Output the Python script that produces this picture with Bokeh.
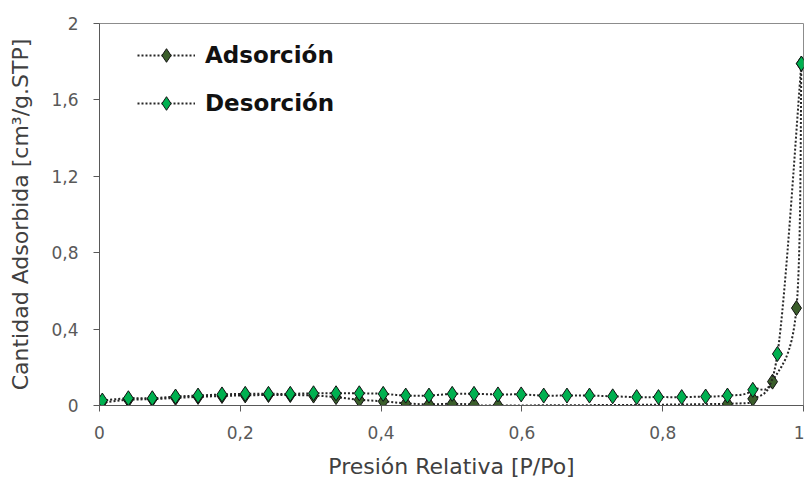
from bokeh.embed import file_html
from bokeh.models import FixedTicker, Legend, LegendItem, Range1d
from bokeh.plotting import figure
from bokeh.resources import INLINE

# Relative pressure / adsorbed volume readings for the isotherm
ads_p = [0.003, 0.041, 0.075, 0.108, 0.140, 0.174, 0.207, 0.240, 0.271, 0.304,
         0.336, 0.369, 0.403, 0.435, 0.468, 0.501, 0.532, 0.566,
         0.892, 0.928, 0.956, 0.990, 0.997]
ads_v = [0.015, 0.030, 0.033, 0.040, 0.045, 0.050, 0.053, 0.055, 0.055, 0.052,
         0.044, 0.030, 0.022, 0.011, 0.006, 0.009, 0.005, 0.000,
         0.009, 0.035, 0.125, 0.510, 1.790]

des_p = [0.004, 0.041, 0.075, 0.108, 0.140, 0.174, 0.207, 0.240, 0.271, 0.304,
         0.336, 0.369, 0.403, 0.435, 0.468, 0.501, 0.532, 0.566, 0.599, 0.631,
         0.664, 0.696, 0.729, 0.763, 0.794, 0.827, 0.861, 0.892, 0.928, 0.963,
         0.997]
des_v = [0.026, 0.038, 0.038, 0.047, 0.052, 0.058, 0.061, 0.061, 0.061, 0.064,
         0.064, 0.064, 0.061, 0.052, 0.052, 0.061, 0.061, 0.058, 0.058, 0.052,
         0.052, 0.052, 0.048, 0.044, 0.044, 0.044, 0.047, 0.052, 0.082, 0.270,
         1.790]

series_names = ["Adsorción", "Desorción"]
series_colors = ["#3b5e2b", "#00b050"]

x_ticks = [0, 0.2, 0.4, 0.6, 0.8, 1]
x_tick_labels = ["0", "0,2", "0,4", "0,6", "0,8", "1"]
y_ticks = [0, 0.4, 0.8, 1.2, 1.6, 2]
y_tick_labels = ["0", "0,4", "0,8", "1,2", "1,6", "2"]


def smooth_segments(xs, ys):
    """Cubic Bezier pieces (Catmull-Rom style) through the given points."""
    n = len(xs)
    seg = dict(x0=[], y0=[], x1=[], y1=[], cx0=[], cy0=[], cx1=[], cy1=[])
    for i in range(n - 1):
        a = max(i - 1, 0)
        b = min(i + 2, n - 1)
        seg["x0"].append(xs[i])
        seg["y0"].append(ys[i])
        seg["x1"].append(xs[i + 1])
        seg["y1"].append(ys[i + 1])
        seg["cx0"].append(xs[i] + (xs[i + 1] - xs[a]) / 6)
        seg["cy0"].append(ys[i] + (ys[i + 1] - ys[a]) / 6)
        seg["cx1"].append(xs[i + 1] - (xs[b] - xs[i]) / 6)
        seg["cy1"].append(ys[i + 1] - (ys[b] - ys[i]) / 6)
    return seg


p = figure(width=804, height=483, output_backend="svg", toolbar_location=None,
           x_range=Range1d(0, 1), y_range=Range1d(0, 2),
           min_border_left=99, min_border_right=1, min_border_top=23,
           min_border_bottom=78)

p.background_fill_color = "white"
p.border_fill_color = "white"
p.outline_line_color = "#8c8c8c"
p.outline_line_width = 1
p.xgrid.visible = False
p.ygrid.visible = False

items = []
for name, color, xs, ys in [(series_names[0], series_colors[0], ads_p, ads_v),
                            (series_names[1], series_colors[1], des_p, des_v)]:
    curve = p.bezier(source=smooth_segments(xs, ys), x0="x0", y0="y0", x1="x1",
                     y1="y1", cx0="cx0", cy0="cy0", cx1="cx1", cy1="cy1",
                     line_color="#262626", line_width=2, line_dash="2 2")
    marks = p.scatter(xs, ys, marker="diamond", size=15,
                      fill_color=color, line_color="#111111", line_width=1)
    items.append(LegendItem(label=name, renderers=[curve, marks]))

legend = Legend(items=items, location=(38, 285), orientation="vertical",
                glyph_width=58, glyph_height=34, label_height=34, spacing=14,
                label_standoff=10, padding=0, border_line_color=None,
                background_fill_alpha=0,
                label_text_font="DejaVu Sans", label_text_font_style="bold",
                label_text_font_size="23px", label_text_color="#111111")
p.add_layout(legend)

for ax, ticks, labels in [(p.xaxis[0], x_ticks, x_tick_labels),
                          (p.yaxis[0], y_ticks, y_tick_labels)]:
    ax.ticker = FixedTicker(ticks=ticks)
    ax.major_label_overrides = {t: lab for t, lab in zip(ticks, labels)}
    ax.minor_tick_line_color = None
    ax.major_tick_in = 0
    ax.major_tick_out = 6
    ax.axis_line_color = "#595959"
    ax.major_tick_line_color = "#595959"
    ax.major_label_text_font = "DejaVu Sans"
    ax.major_label_text_font_size = "17px"
    ax.major_label_text_color = "#595959"
    ax.axis_label_text_font = "DejaVu Sans"
    ax.axis_label_text_font_style = "normal"
    ax.axis_label_text_font_size = "22px"
    ax.axis_label_text_color = "#404040"

p.xaxis.axis_label = "Presión Relativa [P/Po]"
p.yaxis.axis_label = "Cantidad Adsorbida [cm³/g.STP]"
p.xaxis.major_label_standoff = 14
p.xaxis.axis_label_standoff = 12
p.yaxis.major_label_standoff = 15
p.yaxis.axis_label_standoff = 15

open("out.html", "w").write(file_html(p, INLINE))
